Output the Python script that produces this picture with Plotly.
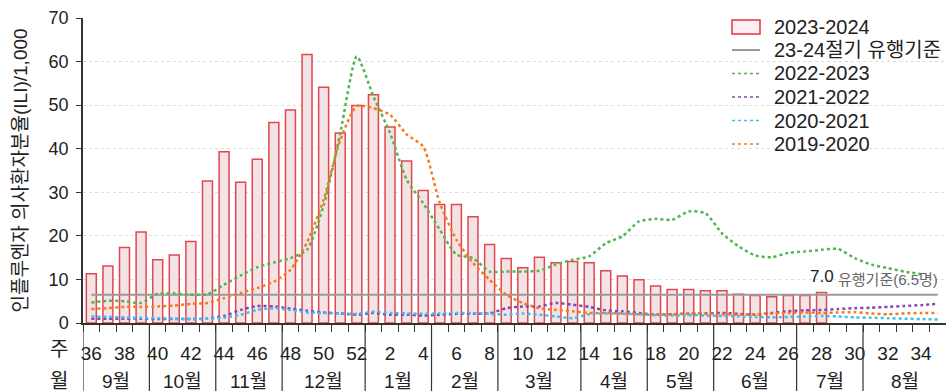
import plotly.graph_objects as go

weeks = [36, 37, 38, 39, 40, 41, 42, 43, 44, 45, 46, 47, 48, 49, 50, 51, 52,
         1, 2, 3, 4, 5, 6, 7, 8, 9, 10, 11, 12, 13, 14, 15, 16, 17, 18, 19, 20,
         21, 22, 23, 24, 25, 26, 27, 28, 29, 30, 31, 32, 33, 34, 35]

months = ["9월", "10월", "11월", "12월", "1월", "2월", "3월", "4월", "5월", "6월", "7월", "8월"]
weeks_per_month = [4, 4, 4, 5, 4, 4, 5, 4, 4, 5, 4, 5]

ili_2023_2024 = [11.3, 13.1, 17.3, 20.9, 14.5, 15.6, 18.7, 32.6, 39.3, 32.3, 37.6, 46.0,
                 48.9, 61.6, 54.1, 43.6, 49.9, 52.4, 45.0, 37.2, 30.4, 27.2, 27.2, 24.4,
                 18.0, 14.8, 12.7, 15.1, 13.8, 14.1, 13.8, 12.0, 10.8, 9.9, 8.5, 7.7,
                 7.7, 7.4, 7.4, 6.6, 6.3, 6.0, 6.3, 6.3, 7.0]

ili_2022_2023 = [4.7, 5.1, 5.0, 4.6, 6.7, 6.8, 6.5, 6.6, 8.8, 10.9, 12.8, 13.9, 14.9, 16.8,
                 27.0, 43.5, 61.2, 52.0, 43.6, 32.9, 27.5, 21.4, 15.7, 14.9, 11.8, 11.8,
                 11.8, 12.0, 13.4, 14.5, 15.3, 18.3, 19.9, 23.3, 23.9, 23.7, 25.6, 25.2,
                 20.6, 17.6, 15.5, 15.1, 16.1, 16.4, 16.8, 17.0, 14.9, 13.4, 12.6, 11.8, 11.2]

ili_2021_2022 = [1.0, 1.0, 1.0, 1.0, 0.9, 0.9, 0.9, 1.0, 1.6, 3.0, 3.9, 3.8, 3.3, 2.8,
                 2.4, 2.2, 1.9, 2.3, 1.9, 1.9, 1.7, 1.9, 2.1, 2.1, 2.2, 3.4, 3.8, 3.8,
                 4.6, 4.2, 3.7, 2.9, 2.7, 2.3, 1.9, 2.0, 2.1, 2.2, 2.3, 2.1, 1.9, 2.3,
                 2.7, 2.9, 3.0, 3.2, 3.4, 3.5, 3.7, 3.9, 4.1, 4.4]

ili_2020_2021 = [1.5, 1.4, 1.3, 1.2, 1.1, 1.0, 0.9, 1.0, 1.2, 1.9, 3.0, 3.4, 3.0, 2.4,
                 2.3, 2.2, 2.1, 2.6, 2.3, 2.2, 2.1, 2.2, 2.3, 2.3, 2.1, 1.9, 2.2, 1.9,
                 1.5, 1.1, 2.0, 2.2, 2.1, 2.0, 1.8, 1.7, 1.8, 1.7, 1.6, 1.5, 1.4, 1.3,
                 1.4, 1.5, 1.6, 1.5, 1.3, 1.2, 1.1, 1.0, 0.9, 0.8]

ili_2019_2020 = [3.2, 3.4, 3.7, 3.7, 3.8, 4.0, 4.4, 4.6, 5.7, 6.9, 8.0, 9.5, 12.2, 18.5,
                 28.3, 42.0, 49.8, 49.3, 47.8, 43.3, 40.5, 27.5, 19.1, 13.8, 9.9, 6.5,
                 4.6, 3.4, 3.0, 2.7, 2.3, 2.3, 2.2, 2.0, 1.9, 2.0, 2.2, 2.2, 2.0, 1.9,
                 2.0, 2.2, 2.3, 2.4, 2.3, 2.4, 2.5, 2.2, 2.0, 2.2, 2.3, 2.3]

threshold = 6.5
last_value_label = "7.0"
threshold_label = "유행기준(6.5명)"
y_title = "인플루엔자 의사환자분율(ILI)/1,000"

FONT = "Liberation Sans, Arial, Noto Sans CJK KR, sans-serif"
TXT = "#222222"

W, H = 946, 391
ML, MR, MT, MB = 83, 0, 18, 68
PW, PH = W - ML - MR, H - MT - MB


def px_x(px):
    return (px - ML) / PW


def px_y(py):
    return (H - MB - py) / PH


idx = list(range(len(weeks)))

bar_style = dict(fill="#f3e3e4", line="#e2474d")
thr_color = "#9a9a9a"
series = [
    ("2022-2023", ili_2022_2023, "#4fb552"),
    ("2021-2022", ili_2021_2022, "#8446b0"),
    ("2020-2021", ili_2020_2021, "#3cc0ee"),
    ("2019-2020", ili_2019_2020, "#f7791c"),
]

fig = go.Figure()
fig.add_trace(go.Bar(
    x=idx[:len(ili_2023_2024)], y=ili_2023_2024, name="2023-2024", width=0.6,
    marker=dict(color=bar_style["fill"], line=dict(color=bar_style["line"], width=1.5)),
    showlegend=False,
))
fig.add_trace(go.Scatter(
    x=idx, y=[threshold] * len(idx), mode="lines", name="23-24절기 유행기준",
    line=dict(color=thr_color, width=2), showlegend=False,
))
for name, vals, color in series:
    fig.add_trace(go.Scatter(
        x=idx[:len(vals)], y=vals, mode="lines", name=name, showlegend=False,
        line=dict(color=color, width=2.5, dash="dot", shape="spline", smoothing=0.6),
    ))

shapes = []
annotations = []

# month boundaries & labels
start = 0
for m, n in zip(months, weeks_per_month):
    shapes.append(dict(type="line", xref="x", yref="paper", x0=start - 0.5, x1=start - 0.5,
                       y0=0, y1=-0.23, line=dict(color="#333", width=1.2)))
    annotations.append(dict(xref="x", yref="paper", x=start + (n - 1) / 2, y=px_y(381),
                            text=m, showarrow=False, yanchor="middle",
                            font=dict(size=19, color=TXT, family=FONT)))
    start += n

# row captions, right edge placed ~13px left of the axis
annotations.append(dict(xref="paper", yref="paper", x=px_x(70), y=px_y(349), text="주",
                        xanchor="right", showarrow=False, yanchor="middle",
                        font=dict(size=20, color=TXT, family=FONT)))
annotations.append(dict(xref="paper", yref="paper", x=px_x(70), y=px_y(381), text="월",
                        xanchor="right", showarrow=False, yanchor="middle",
                        font=dict(size=20, color=TXT, family=FONT)))

# value and threshold labels
last_i = len(ili_2023_2024) - 1
annotations.append(dict(xref="x", yref="y", x=last_i, y=ili_2023_2024[-1], yshift=16,
                        text=last_value_label, showarrow=False, yanchor="middle",
                        font=dict(size=17, color=TXT, family=FONT)))
annotations.append(dict(xref="x", yref="y", x=last_i + 4, y=ili_2023_2024[-1], yshift=13,
                        text=threshold_label, showarrow=False, yanchor="middle",
                        font=dict(size=15, color="#666", family=FONT)))

# legend (drawn manually to match spacing)
legend_items = [("2023-2024", "bar", None)] + [("23-24절기 유행기준", "line", thr_color)] + \
               [(n, "dot", c) for n, _, c in series]
row_y = [27, 50, 73.5, 97, 120.5, 144]
for (label, kind, color), ry in zip(legend_items, row_y):
    if kind == "bar":
        shapes.append(dict(type="rect", xref="paper", yref="paper",
                           x0=px_x(732), x1=px_x(760), y0=px_y(ry - 7), y1=px_y(ry + 7),
                           fillcolor="#fdeff2", line=dict(color="#e8323c", width=1.5)))
    else:
        shapes.append(dict(type="line", xref="paper", yref="paper",
                           x0=px_x(732), x1=px_x(760), y0=px_y(ry), y1=px_y(ry),
                           line=dict(color=color, width=2 if kind == "line" else 1.5,
                                     dash="solid" if kind == "line" else "dot")))
    annotations.append(dict(xref="paper", yref="paper", x=px_x(772), y=px_y(ry),
                            xanchor="left", yanchor="middle", text=label, showarrow=False,
                            font=dict(size=20, color=TXT, family=FONT)))

tickvals = [i for i, w in zip(idx, weeks) if w % 2 == 0]
ticktext = [str(w) for w in weeks if w % 2 == 0]

fig.update_layout(
    width=W, height=H,
    margin=dict(l=ML, r=MR, t=MT, b=MB, autoexpand=False),
    plot_bgcolor="white", paper_bgcolor="white",
    font=dict(family=FONT, size=19, color=TXT),
    showlegend=False,
    shapes=shapes,
    annotations=annotations,
    xaxis=dict(
        range=[-0.5, len(weeks) - 0.5], tickmode="array", tickvals=tickvals, ticktext=ticktext,
        ticks="", showline=True, linecolor="#333", linewidth=1.5, showgrid=False, zeroline=False,
        tickfont=dict(size=19, color=TXT), ticklabelstandoff=12,
        minor=dict(tickmode="array", tickvals=[i - 0.5 for i in idx] + [len(idx) - 0.5],
                   ticks="outside", ticklen=7, tickcolor="#333", tickwidth=1.2, showgrid=False),
    ),
    yaxis=dict(
        range=[0, 70], dtick=10, showline=True, linecolor="#333", linewidth=1.5,
        ticks="outside", ticklen=5, tickcolor="#333", showgrid=True, gridcolor="#dddddd",
        griddash="dot", gridwidth=1, zeroline=False, tickfont=dict(size=18, color=TXT),
        ticklabelstandoff=4,
        title=dict(text=y_title, font=dict(size=19, color=TXT), standoff=16),
    ),
)

fig.write_html("out.html", config={"displayModeBar": False},
               post_script="document.body.style.margin='0';")
